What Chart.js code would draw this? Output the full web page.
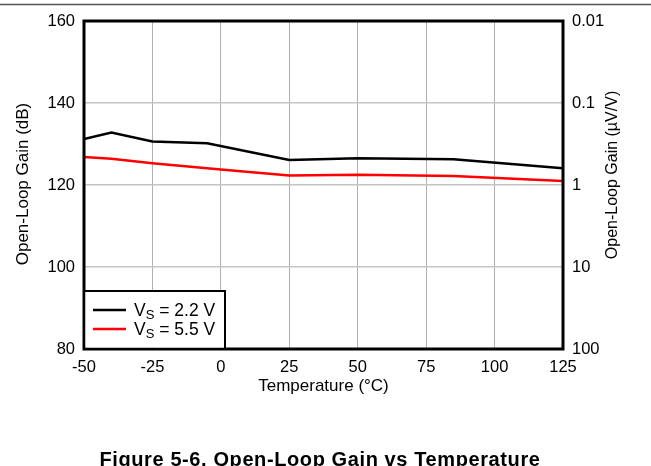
<!DOCTYPE html>
<html><head><meta charset="utf-8">
<script src="https://cdn.jsdelivr.net/npm/chart.js@4"></script>
<style>html,body{margin:0;padding:0;background:#fff;overflow:hidden}#wrap{position:relative;width:651px;height:466px}</style>
</head><body><div id="wrap"><canvas id="c" width="651" height="466"></canvas></div>
<script>
const temps22 = [-50, -40, -25, -5, 25, 50, 85, 125];
const gain22  = [131.2, 132.8, 130.6, 130.2, 126.1, 126.5, 126.3, 124.1];
const temps55 = [-50, -40, -25, 0, 25, 50, 85, 125];
const gain55  = [126.8, 126.4, 125.3, 123.8, 122.3, 122.5, 122.2, 121.0];
const xTicks = [-50, -25, 0, 25, 50, 75, 100, 125];
const leftTicks = [80, 100, 120, 140, 160];
const rightTicks = [0.01, 0.1, 1, 10, 100];
const rightTickLabels = ['0.01', '0.1', '1', '10', '100'];
const seriesNames = [['V', 'S', ' = 2.2 V'], ['V', 'S', ' = 5.5 V']];
const seriesColors = ['#000000', '#ff0000'];
const xTitle = 'Temperature (\u00B0C)';
const yTitle = 'Open-Loop Gain (dB)';
const y2Title = 'Open-Loop Gain (\u00B5V/V)';
const caption = 'Figure 5-6. Open-Loop Gain vs Temperature';

const FONT = '"Liberation Sans", Arial, sans-serif';

const pts = (xs, ys) => xs.map((x, i) => ({x: x, y: ys[i]}));

const decor = {
  id: 'decor',
  afterDraw(chart) {
    const ctx = chart.ctx, a = chart.chartArea;
    ctx.save();
    // top page rule
    ctx.strokeStyle = '#555'; ctx.lineWidth = 1.5;
    ctx.beginPath(); ctx.moveTo(0, 4.5); ctx.lineTo(651, 4.5); ctx.stroke();
    // frame
    ctx.strokeStyle = '#000'; ctx.lineWidth = 3;
    ctx.strokeRect(a.left, a.top, a.right - a.left, a.bottom - a.top);
    // legend
    const lx0 = a.left, ly0 = 291, lx1 = 225, ly1 = a.bottom;
    ctx.fillStyle = '#fff';
    ctx.fillRect(lx0 + 1.5, ly0, lx1 - lx0 - 1.5, ly1 - ly0 - 1.5);
    ctx.lineWidth = 2; ctx.strokeStyle = '#000';
    ctx.beginPath(); ctx.moveTo(lx0, ly0); ctx.lineTo(lx1, ly0); ctx.lineTo(lx1, ly1); ctx.stroke();
    const rows = [310, 329];
    rows.forEach((ry, i) => {
      ctx.strokeStyle = seriesColors[i]; ctx.lineWidth = 2.5;
      ctx.beginPath(); ctx.moveTo(93, ry); ctx.lineTo(126, ry); ctx.stroke();
      ctx.fillStyle = '#000'; ctx.textBaseline = 'alphabetic'; ctx.textAlign = 'left';
      let x = 134;
      const base = ry + 6;
      ctx.font = '17.5px ' + FONT;
      ctx.fillText(seriesNames[i][0], x, base); x += ctx.measureText(seriesNames[i][0]).width;
      ctx.font = '13px ' + FONT;
      ctx.fillText(seriesNames[i][1], x, base + 3); x += ctx.measureText(seriesNames[i][1]).width;
      ctx.font = '17.5px ' + FONT;
      ctx.fillText(seriesNames[i][2], x, base);
    });
    // axis titles
    ctx.fillStyle = '#000'; ctx.textAlign = 'center'; ctx.textBaseline = 'middle';
    ctx.font = '17px ' + FONT;
    ctx.fillText(xTitle, (a.left + a.right) / 2, 386);
    ctx.save(); ctx.translate(23, 184); ctx.rotate(-Math.PI / 2); ctx.fillText(yTitle, 0, 0); ctx.restore();
    ctx.font = '16px ' + FONT;
    ctx.save(); ctx.translate(613, 175); ctx.rotate(-Math.PI / 2); ctx.fillText(y2Title, 0, 0); ctx.restore();
    // caption
    ctx.font = 'bold 20px ' + FONT; ctx.textBaseline = 'alphabetic';
    try { ctx.letterSpacing = '0.6px'; } catch (e) {}
    ctx.fillText(caption, 320, 466);
    ctx.restore();
  }
};

new Chart(document.getElementById('c'), {
  type: 'scatter',
  data: {
    datasets: [
      {label: 'VS = 2.2 V', data: pts(temps22, gain22), showLine: true, borderColor: seriesColors[0], borderWidth: 2.5, pointRadius: 0, yAxisID: 'y', tension: 0},
      {label: 'VS = 5.5 V', data: pts(temps55, gain55), showLine: true, borderColor: seriesColors[1], borderWidth: 2.5, pointRadius: 0, yAxisID: 'y', tension: 0}
    ]
  },
  options: {
    responsive: false, animation: false, devicePixelRatio: 1,
    layout: {padding: {top: 21, left: 0, right: 0, bottom: 0}},
    plugins: {legend: {display: false}, tooltip: {enabled: false}},
    scales: {
      x: {
        type: 'linear', min: -50, max: 125,
        afterBuildTicks: s => { s.ticks = xTicks.map(v => ({value: v})); },
        afterFit: s => { s.height = 117; },
        grid: {color: '#b0b0b0', lineWidth: 1, drawTicks: false},
        border: {display: false},
        ticks: {color: '#000', font: {family: FONT, size: 16.5}, padding: 9, maxRotation: 0, autoSkip: false}
      },
      y: {
        type: 'linear', position: 'left', min: 80, max: 160,
        afterBuildTicks: s => { s.ticks = leftTicks.map(v => ({value: v})); },
        afterFit: s => { s.width = 84; },
        grid: {color: '#c4c4c4', lineWidth: 1.5, drawTicks: false},
        border: {display: false},
        ticks: {color: '#000', font: {family: FONT, size: 16.5}, padding: 9}
      },
      y2: {
        type: 'logarithmic', position: 'right', min: 0.01, max: 100, reverse: true,
        afterBuildTicks: s => { s.ticks = rightTicks.map(v => ({value: v})); },
        afterFit: s => { s.width = 88; },
        grid: {display: false, drawTicks: false},
        border: {display: false},
        ticks: {color: '#000', font: {family: FONT, size: 16.5}, padding: 9,
          callback: (v, i) => rightTickLabels[i]}
      }
    }
  },
  plugins: [decor]
});
</script></body></html>
